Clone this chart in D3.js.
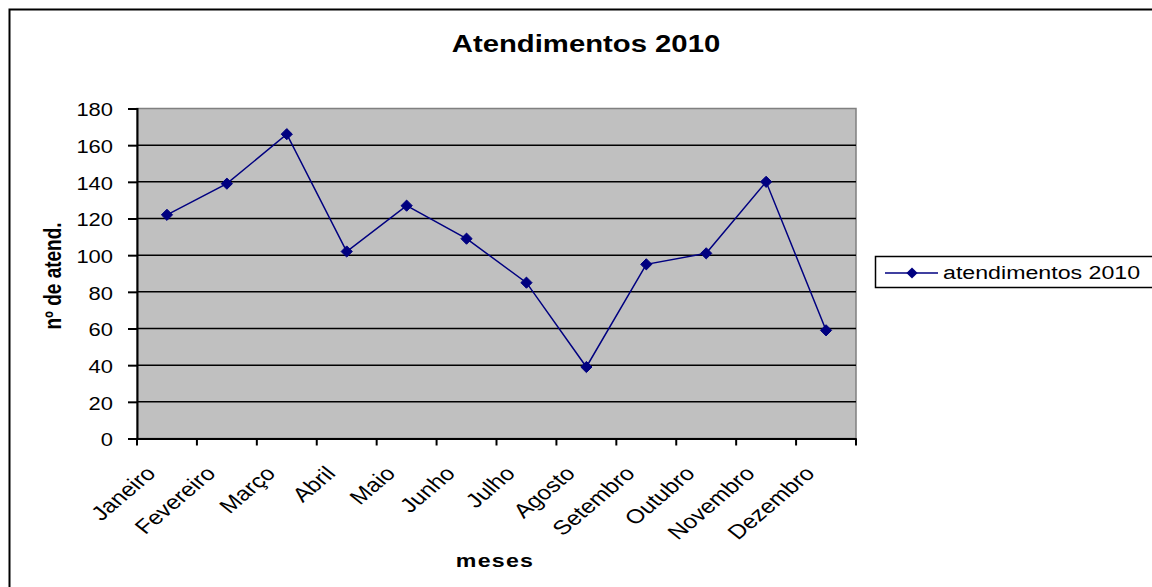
<!DOCTYPE html>
<html>
<head>
<meta charset="utf-8">
<script src="https://cdn.jsdelivr.net/npm/d3@7"></script>
<style>
  body { margin: 0; background: #ffffff; }
  svg { display: block; font-family: "Liberation Sans", Arial, sans-serif; }
</style>
</head>
<body>
<script>
var months = ["Janeiro", "Fevereiro", "Março", "Abril", "Maio", "Junho", "Julho",
  "Agosto", "Setembro", "Outubro", "Novembro", "Dezembro"];
var atendimentos = [122, 139, 166, 102, 127, 109, 85, 39, 95, 101, 140, 59];
var yTicks = [0, 20, 40, 60, 80, 100, 120, 140, 160, 180];
var seriesName = "atendimentos 2010";

var width = 1152;
var height = 587;
// the original picture is a bit wider than tall, text looks stretched
var sx = 1.22;

var svg = d3.select("body").append("svg")
  .attr("width", width)
  .attr("height", height);

// outer chart border (runs off the page on right and bottom)
svg.append("rect")
  .attr("x", 9.5).attr("y", 9.5)
  .attr("width", 1160).attr("height", 600)
  .style("fill", "#ffffff")
  .style("stroke", "#000000")
  .style("stroke-width", 2);

var plot = {left: 137, right: 856, top: 108.5, bottom: 438.5};

var x = d3.scaleBand()
  .domain(months)
  .range([plot.left, plot.right])
  .padding(0);

var y = d3.scaleLinear()
  .domain([0, 180])
  .range([plot.bottom, plot.top]);

// plot area
svg.append("rect")
  .attr("x", plot.left).attr("y", plot.top)
  .attr("width", plot.right - plot.left)
  .attr("height", plot.bottom - plot.top)
  .style("fill", "#c0c0c0")
  .style("stroke", "#808080")
  .style("stroke-width", 1.5);

// gridlines
svg.append("g").selectAll("line")
  .data(yTicks.filter(function(d) { return d > 0 && d < 180; }))
  .enter().append("line")
  .attr("x1", plot.left).attr("x2", plot.right)
  .attr("y1", function(d) { return y(d); })
  .attr("y2", function(d) { return y(d); })
  .style("stroke", "#000000")
  .style("stroke-width", 1.5);

// y axis
var yAxis = svg.append("g")
  .attr("transform", "translate(" + plot.left + ",0)")
  .call(d3.axisLeft(y).tickValues(yTicks).tickSize(9));
yAxis.select(".domain").style("stroke", "#000").style("stroke-width", 2);
yAxis.selectAll(".tick line").style("stroke-width", 2);
yAxis.selectAll("text")
  .attr("x", 0)
  .attr("dy", "0.4em")
  .attr("transform", "translate(-24,0) scale(" + sx + ",1)")
  .style("font-size", "18px")
  .style("fill", "#000");

// x axis
var xAxis = svg.append("g")
  .attr("transform", "translate(0," + plot.bottom + ")")
  .call(d3.axisBottom(x).tickSize(0).tickFormat(""));
xAxis.select(".domain").style("stroke", "#000").style("stroke-width", 2);

var boundaries = d3.range(months.length + 1).map(function(i) {
  return plot.left + i * x.bandwidth();
});
svg.append("g").selectAll("line")
  .data(boundaries)
  .enter().append("line")
  .attr("x1", function(d) { return d; })
  .attr("x2", function(d) { return d; })
  .attr("y1", plot.bottom)
  .attr("y2", plot.bottom + 7)
  .style("stroke", "#000")
  .style("stroke-width", 2);

svg.append("g").selectAll("text")
  .data(months)
  .enter().append("text")
  .attr("transform", function(d) {
    return "translate(" + (x(d) + x.bandwidth() / 2 - 10) + "," + (plot.bottom + 36) + ") scale(" + sx + ",1) rotate(-46)";
  })
  .attr("text-anchor", "end")
  .style("font-size", "20px")
  .text(function(d) { return d; });

// line + markers
var line = d3.line()
  .x(function(d, i) { return x(months[i]) + x.bandwidth() / 2; })
  .y(function(d) { return y(d); });

svg.append("path")
  .datum(atendimentos)
  .attr("d", line)
  .style("fill", "none")
  .style("stroke", "#000080")
  .style("stroke-width", 1.5);

var diamond = d3.symbol().type(d3.symbolDiamond2).size(80);

svg.append("g").selectAll("path")
  .data(atendimentos)
  .enter().append("path")
  .attr("d", diamond)
  .attr("transform", function(d, i) {
    return "translate(" + (x(months[i]) + x.bandwidth() / 2) + "," + y(d) + ")";
  })
  .style("fill", "#000080")
  .style("stroke", "#000080");

// title and axis titles
svg.append("text")
  .attr("transform", "translate(586,52) scale(" + sx + ",1)")
  .attr("text-anchor", "middle")
  .style("font-size", "24px")
  .style("font-weight", "bold")
  .text("Atendimentos 2010");

svg.append("text")
  .attr("transform", "translate(61,276) scale(" + sx + ",1) rotate(-90)")
  .attr("text-anchor", "middle")
  .style("font-size", "19px")
  .style("font-weight", "bold")
  .text("nº de atend.");

svg.append("text")
  .attr("transform", "translate(495,567) scale(" + sx + ",1)")
  .attr("text-anchor", "middle")
  .style("font-size", "19px")
  .style("font-weight", "bold")
  .style("letter-spacing", "1px")
  .text("meses");

// legend
var legend = svg.append("g");
legend.append("rect")
  .attr("x", 875.5).attr("y", 256.5)
  .attr("width", 300).attr("height", 31)
  .style("fill", "#ffffff")
  .style("stroke", "#000")
  .style("stroke-width", 1.5);
legend.append("line")
  .attr("x1", 885).attr("x2", 938)
  .attr("y1", 273).attr("y2", 273)
  .style("stroke", "#000080")
  .style("stroke-width", 1.5);
legend.append("path")
  .attr("d", diamond)
  .attr("transform", "translate(912,273)")
  .style("fill", "#000080");
legend.append("text")
  .attr("transform", "translate(943,279) scale(" + sx + ",1)")
  .style("font-size", "19px")
  .text(seriesName);
</script>
</body>
</html>
